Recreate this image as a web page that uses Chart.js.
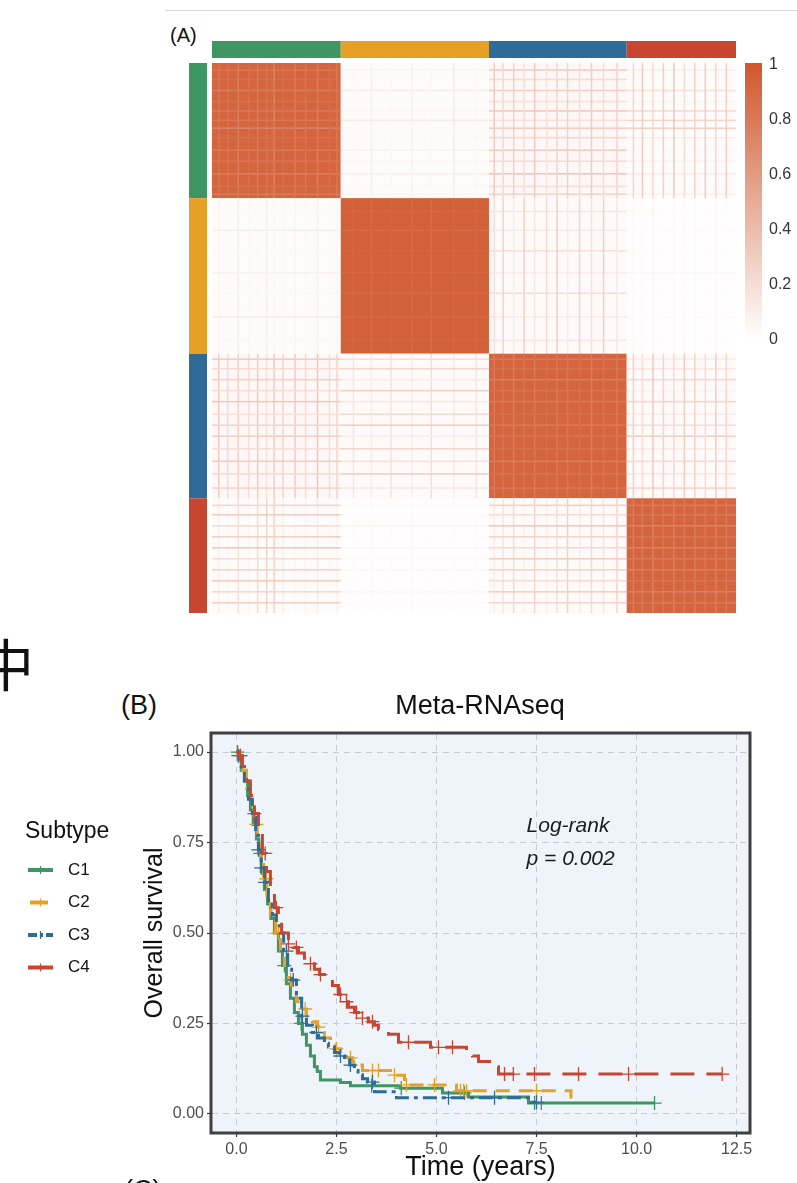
<!DOCTYPE html>
<html>
<head>
<meta charset="utf-8">
<script src="https://cdn.jsdelivr.net/npm/chart.js@4.4.1/dist/chart.umd.min.js"></script>
<style>
  html, body { margin: 0; padding: 0; background: #fff; }
  body { position: relative; width: 797px; height: 1183px; overflow: hidden;
         font-family: "Liberation Sans", Arial, sans-serif; color: #111; }
  .abs { position: absolute; white-space: nowrap; }
  #rule { left: 165px; top: 10px; width: 632px; height: 1px; background: #d8d8d8; }
  #labA { left: 170px; top: 24px; font-size: 20px; }
  #hanzi { left: -22px; top: 634px; font-size: 56px; line-height: 56px; font-family: "Noto Sans CJK SC", sans-serif; }
  #labB { left: 121px; top: 690px; font-size: 27px; }
  #titleB { left: 211px; width: 538px; top: 690px; text-align: center; font-size: 27px; }
  #labC { left: 124px; top: 1175px; font-size: 27px; }
  canvas { position: absolute; }
  #heatmap { left: 0; top: 0; }
  #colorbar { left: 730px; top: 40px; }
  #km { left: 0; top: 680px; }
</style>
</head>
<body>
<div id="rule" class="abs"></div>
<div id="labA" class="abs">(A)</div>
<canvas id="heatmap" width="797" height="630"></canvas>
<canvas id="colorbar" width="67" height="320"></canvas>
<div id="hanzi" class="abs">中</div>
<div id="labB" class="abs">(B)</div>
<div id="titleB" class="abs">Meta-RNAseq</div>
<canvas id="km" width="797" height="520"></canvas>
<div id="labC" class="abs">(C)</div>

<script>
// consensus clustering, k = 4
const clusterSizes = [86, 99, 92, 73];
const clusterColors = ['#3E9662', '#E5A025', '#2E6B96', '#C84630'];
// typical consensus inside / between clusters
const blockConsensus = [
  [0.92, 0.02, 0.04, 0.02],
  [0.02, 0.95, 0.03, 0.01],
  [0.04, 0.03, 0.92, 0.03],
  [0.02, 0.01, 0.03, 0.92]
];
// less stable samples: [cluster, position in cluster, consensus with C1..C4]
const looseMembers = [
  [0, 4, [0.82, 0.06, 0.30, 0.10]], [0, 10, [0.85, 0.03, 0.22, 0.05]],
  [0, 17, [0.78, 0.10, 0.28, 0.18]], [0, 24, [0.85, 0.04, 0.20, 0.06]],
  [0, 30, [0.80, 0.05, 0.32, 0.22]], [0, 36, [0.82, 0.12, 0.18, 0.25]],
  [0, 41, [0.75, 0.05, 0.30, 0.28]], [0, 47, [0.85, 0.04, 0.25, 0.10]],
  [0, 55, [0.80, 0.08, 0.30, 0.05]], [0, 62, [0.83, 0.05, 0.22, 0.08]],
  [0, 70, [0.78, 0.10, 0.35, 0.12]], [0, 78, [0.85, 0.04, 0.20, 0.05]],
  [0, 83, [0.80, 0.06, 0.26, 0.08]],
  [1, 8, [0.05, 0.90, 0.15, 0.02]], [1, 20, [0.10, 0.88, 0.12, 0.03]],
  [1, 33, [0.04, 0.92, 0.18, 0.02]], [1, 47, [0.08, 0.90, 0.10, 0.04]],
  [1, 60, [0.05, 0.88, 0.20, 0.02]], [1, 75, [0.12, 0.90, 0.12, 0.03]],
  [1, 90, [0.05, 0.91, 0.15, 0.02]],
  [2, 3, [0.30, 0.20, 0.80, 0.10]], [2, 9, [0.22, 0.25, 0.85, 0.15]],
  [2, 16, [0.28, 0.12, 0.78, 0.22]], [2, 23, [0.20, 0.28, 0.84, 0.08]],
  [2, 30, [0.32, 0.15, 0.80, 0.25]], [2, 38, [0.18, 0.22, 0.86, 0.10]],
  [2, 45, [0.25, 0.30, 0.80, 0.20]], [2, 52, [0.28, 0.12, 0.82, 0.28]],
  [2, 60, [0.20, 0.25, 0.85, 0.12]], [2, 68, [0.30, 0.18, 0.78, 0.22]],
  [2, 76, [0.22, 0.28, 0.84, 0.15]], [2, 85, [0.26, 0.14, 0.80, 0.25]],
  [3, 4, [0.25, 0.04, 0.28, 0.78]], [3, 10, [0.30, 0.03, 0.20, 0.80]],
  [3, 17, [0.22, 0.06, 0.32, 0.75]], [3, 24, [0.28, 0.02, 0.25, 0.82]],
  [3, 31, [0.32, 0.05, 0.22, 0.76]], [3, 38, [0.20, 0.03, 0.30, 0.80]],
  [3, 45, [0.26, 0.04, 0.26, 0.78]], [3, 52, [0.30, 0.02, 0.20, 0.82]],
  [3, 59, [0.24, 0.05, 0.28, 0.76]], [3, 66, [0.28, 0.03, 0.24, 0.80]]
];
const colorbarTicks = [0, 0.2, 0.4, 0.6, 0.8, 1];
const heatHigh = [208, 88, 46];

// survival by subtype (time in years, KM estimate after each event)
const subtypes = ['C1', 'C2', 'C3', 'C4'];
const c1Times = [0, 0.05, 0.12, 0.2, 0.28, 0.35, 0.42, 0.5, 0.56, 0.62, 0.7, 0.78, 0.86, 0.95, 1.05, 1.15, 1.25, 1.35, 1.45, 1.55, 1.65, 1.75, 1.85, 1.95, 2.02, 2.1, 2.6, 2.85, 4.1, 5.15, 5.8, 7.3, 10.45];
const c1Surv  = [1, 0.98, 0.95, 0.92, 0.88, 0.84, 0.80, 0.76, 0.72, 0.67, 0.62, 0.58, 0.54, 0.50, 0.45, 0.41, 0.36, 0.32, 0.28, 0.25, 0.22, 0.19, 0.16, 0.13, 0.117, 0.094, 0.087, 0.078, 0.071, 0.058, 0.047, 0.030, 0.030];
const c2Times = [0, 0.05, 0.15, 0.25, 0.35, 0.45, 0.52, 0.6, 0.68, 0.76, 0.85, 0.98, 1.1, 1.2, 1.3, 1.4, 1.5, 1.6, 1.75, 1.9, 2.0, 2.1, 2.2, 2.35, 2.45, 2.6, 2.75, 2.9, 3.0, 3.15, 3.85, 4.2, 5.5, 8.36];
const c2Surv  = [1, 0.99, 0.95, 0.90, 0.85, 0.80, 0.76, 0.70, 0.65, 0.60, 0.55, 0.50, 0.45, 0.41, 0.37, 0.34, 0.31, 0.29, 0.27, 0.255, 0.24, 0.225, 0.21, 0.19, 0.18, 0.17, 0.155, 0.145, 0.135, 0.12, 0.107, 0.080, 0.064, 0.028];
const c3Times = [0, 0.05, 0.12, 0.2, 0.3, 0.4, 0.48, 0.55, 0.62, 0.7, 0.8, 0.9, 1.0, 1.09, 1.18, 1.28, 1.38, 1.5, 1.63, 1.75, 1.9, 2.05, 2.2, 2.3, 2.45, 2.58, 2.7, 2.83, 2.95, 3.04, 3.15, 3.28, 3.45, 4.0, 7.35, 7.5];
const c3Surv  = [1, 0.99, 0.96, 0.92, 0.87, 0.82, 0.77, 0.73, 0.68, 0.64, 0.59, 0.55, 0.52, 0.50, 0.45, 0.40, 0.37, 0.32, 0.27, 0.245, 0.225, 0.21, 0.195, 0.185, 0.17, 0.16, 0.148, 0.135, 0.12, 0.108, 0.097, 0.088, 0.061, 0.045, 0.032, 0.032];
const c4Times = [0, 0.05, 0.15, 0.25, 0.35, 0.45, 0.55, 0.65, 0.75, 0.85, 0.95, 1.05, 1.13, 1.3, 1.42, 1.55, 1.7, 1.85, 1.95, 2.08, 2.25, 2.4, 2.55, 2.65, 2.8, 2.95, 3.1, 3.3, 3.45, 3.55, 3.8, 4.05, 4.85, 5.75, 5.9, 6.05, 6.45, 6.55, 12.14];
const c4Surv  = [1, 0.99, 0.96, 0.92, 0.88, 0.83, 0.78, 0.72, 0.67, 0.62, 0.57, 0.53, 0.50, 0.47, 0.46, 0.445, 0.43, 0.415, 0.40, 0.385, 0.37, 0.355, 0.33, 0.31, 0.295, 0.28, 0.265, 0.255, 0.245, 0.233, 0.22, 0.198, 0.184, 0.17, 0.16, 0.145, 0.13, 0.11, 0.11];
// censoring times
const c1Censor = [0.03, 0.6, 1.2, 1.62, 3.38, 4.12, 5.7, 7.45, 7.62, 10.45];
const c2Censor = [0.1, 0.5, 0.75, 1.05, 1.35, 1.72, 2.05, 2.5, 2.85, 3.4, 3.55, 3.95, 4.25, 4.95, 5.6, 5.68, 5.75, 7.5];
const c3Censor = [0.05, 0.55, 0.62, 0.72, 1.25, 1.42, 1.65, 2.0, 2.6, 2.85, 3.4, 5.3, 6.45, 7.5];
const c4Censor = [0.1, 0.45, 0.72, 1.0, 1.3, 1.5, 1.85, 2.1, 2.6, 2.75, 3.0, 3.15, 3.4, 4.3, 5.05, 5.4, 6.7, 6.92, 7.45, 8.55, 9.8, 12.14];
const timeTicks = [0, 2.5, 5, 7.5, 10, 12.5];
const survTicks = [0, 0.25, 0.5, 0.75, 1];
const pValue = 'p = 0.002';

const subtypeColors = ['#3E9662', '#E5A025', '#2E6B96', '#C84630'];
const subtypeDash = [[], [14, 9], [14, 5, 4, 5], [24, 12]];

function heatColor(v) {
  const c = heatHigh.map(h => Math.round(255 + (h - 255) * v));
  return `rgb(${c[0]},${c[1]},${c[2]})`;
}

// ---------- consensus matrix ----------
const nSamples = clusterSizes.reduce((a, b) => a + b, 0);
const clusterStart = clusterSizes.map((_, i) => clusterSizes.slice(0, i).reduce((a, b) => a + b, 0));

const consensusBlocks = {
  id: 'consensusBlocks',
  beforeDatasetsDraw(chart) {
    const {ctx, chartArea, scales: {x, y}} = chart;
    const cell = (c0, c1, r0, r1, v) => {
      const x0 = x.getPixelForValue(c0), x1 = x.getPixelForValue(c1);
      const y0 = y.getPixelForValue(r0), y1 = y.getPixelForValue(r1);
      ctx.fillStyle = heatColor(v);
      ctx.fillRect(x0, y0, x1 - x0, y1 - y0);
    };
    ctx.save();
    for (let r = 0; r < clusterSizes.length; r++) {
      for (let c = 0; c < clusterSizes.length; c++) {
        cell(clusterStart[c], clusterStart[c] + clusterSizes[c],
             clusterStart[r], clusterStart[r] + clusterSizes[r], blockConsensus[r][c]);
      }
    }
    // rows and columns of the less stable samples
    looseMembers.forEach(([k, pos, cons]) => {
      const i = clusterStart[k] + pos;
      cons.forEach((v, b) => {
        cell(clusterStart[b], clusterStart[b] + clusterSizes[b], i, i + 1, v);
        cell(i, i + 1, clusterStart[b], clusterStart[b] + clusterSizes[b], v);
      });
    });
    // cluster annotation bars, top and left
    for (let r = 0; r < clusterSizes.length; r++) {
      const xs = x.getPixelForValue(clusterStart[r]);
      const xe = x.getPixelForValue(clusterStart[r] + clusterSizes[r]);
      const ys = y.getPixelForValue(clusterStart[r]);
      const ye = y.getPixelForValue(clusterStart[r] + clusterSizes[r]);
      ctx.fillStyle = clusterColors[r];
      ctx.fillRect(xs, chartArea.top - 22, xe - xs, 17);
      ctx.fillRect(chartArea.left - 23, ys, 18, ye - ys);
    }
    ctx.restore();
  }
};

new Chart(document.getElementById('heatmap'), {
  type: 'scatter',
  data: { datasets: [{ data: [] }] },
  options: {
    responsive: false,
    animation: false,
    layout: { padding: { left: 212, top: 63, right: 61, bottom: 17 } },
    plugins: { legend: { display: false }, tooltip: { enabled: false } },
    scales: {
      x: { type: 'linear', min: 0, max: nSamples, display: false },
      y: { type: 'linear', min: 0, max: nSamples, reverse: true, display: false }
    }
  },
  plugins: [consensusBlocks]
});

// ---------- colour key ----------
const colorRamp = {
  id: 'colorRamp',
  beforeDatasetsDraw(chart) {
    const {ctx, chartArea, scales: {y}} = chart;
    const g = ctx.createLinearGradient(0, y.getPixelForValue(0), 0, y.getPixelForValue(1));
    for (let i = 0; i <= 10; i++) g.addColorStop(i / 10, heatColor(i / 10));
    ctx.save();
    ctx.fillStyle = g;
    ctx.fillRect(chartArea.left, chartArea.top, chartArea.width, chartArea.height);
    ctx.restore();
  }
};

new Chart(document.getElementById('colorbar'), {
  type: 'scatter',
  data: { datasets: [{ data: [] }] },
  options: {
    responsive: false,
    animation: false,
    layout: { padding: { left: 15, top: 23, right: 0, bottom: 19 } },
    plugins: { legend: { display: false }, tooltip: { enabled: false } },
    scales: {
      x: { display: false, min: 0, max: 1 },
      y: {
        position: 'right', min: -0.005, max: 1.005,
        afterBuildTicks: s => { s.ticks = colorbarTicks.map(v => ({ value: v })); },
        afterFit: s => { s.width = 35; },
        grid: { display: false, drawTicks: false },
        border: { display: false },
        ticks: { color: '#333', padding: 7, font: { size: 16, family: 'Liberation Sans' },
                 callback: v => String(v) }
      }
    }
  },
  plugins: [colorRamp]
});

// ---------- Kaplan-Meier ----------
function stepPoints(times, surv) {
  return times.map((t, i) => ({ x: t, y: surv[i] }));
}
function censorPoints(times, surv, censor) {
  return censor.map(t => {
    let k = 0;
    while (k + 1 < times.length && times[k + 1] <= t) k++;
    return { x: t, y: surv[k] };
  });
}

const curves = [[c1Times, c1Surv, c1Censor], [c2Times, c2Surv, c2Censor],
                [c3Times, c3Surv, c3Censor], [c4Times, c4Surv, c4Censor]];
const kmDatasets = [];
curves.forEach(([t, s, cens], i) => {
  kmDatasets.push({
    type: 'line', label: subtypes[i], data: stepPoints(t, s), stepped: true,
    borderColor: subtypeColors[i], borderWidth: 3, borderDash: subtypeDash[i],
    pointRadius: 0, fill: false, order: 8 - 2 * i
  });
  kmDatasets.push({
    type: 'scatter', label: subtypes[i] + ' censored', data: censorPoints(t, s, cens),
    pointStyle: 'cross', pointRadius: 7, borderWidth: 1.3, borderColor: subtypeColors[i],
    backgroundColor: subtypeColors[i], order: 7 - 2 * i
  });
});

const panelFrame = {
  id: 'panelFrame',
  beforeDraw(chart) {
    const {ctx, chartArea: a} = chart;
    ctx.save();
    ctx.fillStyle = '#EFF3FA';
    ctx.fillRect(a.left, a.top, a.width, a.height);
    ctx.restore();
  },
  afterDraw(chart) {
    const {ctx, chartArea: a} = chart;
    ctx.save();
    ctx.strokeStyle = '#3f3f3f';
    ctx.lineWidth = 3;
    ctx.strokeRect(a.left - 1, a.top - 1, a.width + 2, a.height + 2);
    ctx.restore();
  }
};

const pvalLabel = {
  id: 'pvalLabel',
  afterDatasetsDraw(chart) {
    const {ctx, scales: {x, y}} = chart;
    ctx.save();
    ctx.fillStyle = '#1a1a1a';
    ctx.font = 'italic 21px "Liberation Sans", Arial, sans-serif';
    ctx.textAlign = 'left';
    ctx.textBaseline = 'middle';
    ctx.fillText('Log-rank', x.getPixelForValue(7.25), y.getPixelForValue(0.795));
    ctx.fillText(pValue, x.getPixelForValue(7.25), y.getPixelForValue(0.705));
    ctx.restore();
  }
};

// legend on the left: solid/dashed key with a censor cross
const subtypeLegend = {
  id: 'subtypeLegend',
  afterDraw(chart) {
    const {ctx} = chart;
    const lines = chart.data.datasets.filter(d => d.type === 'line');
    ctx.save();
    ctx.fillStyle = '#111';
    ctx.textBaseline = 'middle';
    ctx.font = '23px "Liberation Sans", Arial, sans-serif';
    ctx.fillText('Subtype', 25, 152);
    ctx.font = '17px "Liberation Sans", Arial, sans-serif';
    lines.forEach((d, i) => {
      const yy = 190 + i * 32.5;
      ctx.strokeStyle = d.borderColor;
      ctx.lineWidth = 4;
      ctx.setLineDash(i === 2 ? [9, 3, 3, 3] : []);
      ctx.beginPath();
      ctx.moveTo(i === 1 ? 30 : 28, yy);
      ctx.lineTo(i === 1 ? 48 : 53, yy);
      ctx.stroke();
      ctx.setLineDash([]);
      ctx.lineWidth = 1.2;
      ctx.beginPath();
      ctx.moveTo(40.5, yy - 4); ctx.lineTo(40.5, yy + 4);
      ctx.stroke();
      ctx.fillStyle = '#111';
      ctx.fillText(d.label, 68, yy);
    });
    ctx.restore();
  }
};

new Chart(document.getElementById('km'), {
  data: { datasets: kmDatasets },
  options: {
    responsive: false,
    animation: false,
    layout: { padding: { left: 139, top: 54, right: 48, bottom: 12 } },
    plugins: { legend: { display: false }, tooltip: { enabled: false } },
    scales: {
      x: {
        type: 'linear', min: -0.61, max: 12.81,
        afterBuildTicks: s => { s.ticks = timeTicks.map(v => ({ value: v })); },
        afterFit: s => { s.height = 56; },
        grid: { color: '#C5CAD3', lineWidth: 1, tickLength: 5, tickColor: '#333', tickWidth: 1.2 },
        border: { display: false, dash: [6, 5] },
        ticks: { color: '#4D4D4D', padding: 3, maxRotation: 0, font: { size: 16, family: 'Liberation Sans' },
                 callback: v => v.toFixed(1) },
        title: { display: true, text: 'Time (years)', color: '#111', padding: 4,
                 font: { size: 27, family: 'Liberation Sans' } }
      },
      y: {
        type: 'linear', min: -0.05, max: 1.05,
        afterBuildTicks: s => { s.ticks = survTicks.map(v => ({ value: v })); },
        afterFit: s => { s.width = 73; },
        grid: { color: '#C5CAD3', lineWidth: 1, tickLength: 5, tickColor: '#333', tickWidth: 1.2 },
        border: { display: false, dash: [6, 5] },
        ticks: { color: '#4D4D4D', padding: 3, font: { size: 16, family: 'Liberation Sans' },
                 callback: v => v.toFixed(2) },
        title: { display: true, text: 'Overall survival', color: '#111', padding: 1,
                 font: { size: 25, family: 'Liberation Sans' } }
      }
    }
  },
  plugins: [panelFrame, pvalLabel, subtypeLegend]
});
</script>
</body>
</html>
